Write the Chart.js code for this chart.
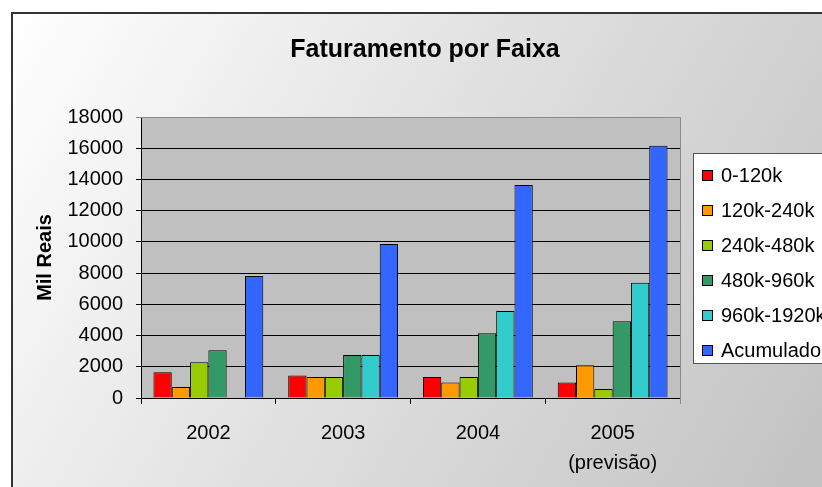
<!DOCTYPE html>
<html>
<head>
<meta charset="utf-8">
<script src="https://cdn.jsdelivr.net/npm/chart.js@4.4.1/dist/chart.umd.min.js"></script>
<style>
  html, body { margin: 0; padding: 0; overflow: hidden; background: #fff; }
  canvas { display: block; }
</style>
</head>
<body>
<canvas id="chart" width="850" height="520"></canvas>
<script>
// values (mil reais)
const years = ['2002', '2003', '2004', ['2005', '(previsão)']];
const faixa0_120 = [1650, 1440, 1350, 990];
const faixa120_240 = [710, 1350, 990, 2100];
const faixa240_480 = [2290, 1350, 1350, 580];
const faixa480_960 = [3060, 2760, 4150, 4920];
const faixa960_1920 = [null, 2760, 5570, 7380];
const acumulado = [7810, 9870, 13650, 16160];
const yTicks = [0, 2000, 4000, 6000, 8000, 10000, 12000, 14000, 16000, 18000];

const FONT = '"Liberation Sans", Arial, sans-serif';
Chart.defaults.font.family = FONT;
Chart.defaults.color = '#000';

const PLOT_BG = '#c0c0c0';

function bar(label, data, color) {
  return {
    label,
    data,
    backgroundColor: color,
    borderColor: '#000',
    borderWidth: 1,
    categoryPercentage: 0.815,
    barPercentage: 1.0,
  };
}

// page background, outer frame and grey plot area
const backdrop = {
  id: 'backdrop',
  beforeDraw(chart) {
    const { ctx, chartArea: a } = chart;
    ctx.save();
    const g = ctx.createLinearGradient(12, 13, 822, 487);
    g.addColorStop(0, '#ffffff');
    g.addColorStop(0.45, '#e2e2e2');
    g.addColorStop(1, '#c2c2c2');
    ctx.fillStyle = g;
    ctx.fillRect(12, 13, chart.width, chart.height);
    ctx.strokeStyle = '#333';
    ctx.lineWidth = 2;
    ctx.strokeRect(12, 13, chart.width + 20, chart.height + 20);
    ctx.fillStyle = PLOT_BG;
    ctx.fillRect(a.left, a.top, a.right - a.left, a.bottom - a.top);
    ctx.restore();
  },
  afterDatasetsDraw(chart) {
    const { ctx, chartArea: a } = chart;
    ctx.save();
    ctx.strokeStyle = '#8a8a8a';
    ctx.lineWidth = 1;
    ctx.beginPath();
    ctx.moveTo(a.left, a.top + 0.5);
    ctx.lineTo(a.right + 0.5, a.top + 0.5);
    ctx.lineTo(a.right + 0.5, a.bottom + 6);
    ctx.stroke();
    ctx.restore();
  },
};

// boxed legend to the right of the plot
const boxLegend = {
  id: 'boxLegend',
  afterDraw(chart) {
    const { ctx } = chart;
    const sets = chart.data.datasets;
    ctx.save();
    ctx.fillStyle = '#fff';
    ctx.fillRect(693, 153, 200, 210);
    ctx.strokeStyle = '#555';
    ctx.lineWidth = 1;
    ctx.strokeRect(693.5, 153.5, 200, 210);
    ctx.font = '20px ' + FONT;
    ctx.textBaseline = 'middle';
    sets.forEach((ds, i) => {
      const y = 175 + i * 35;
      ctx.fillStyle = ds.backgroundColor;
      ctx.fillRect(702, y - 5, 11, 11);
      ctx.strokeStyle = '#000';
      ctx.strokeRect(702.5, y - 4.5, 10, 10);
      ctx.fillStyle = '#000';
      ctx.fillText(ds.label, 721, y + 1);
    });
    ctx.restore();
  },
};

new Chart(document.getElementById('chart'), {
  type: 'bar',
  data: {
    labels: years,
    datasets: [
      bar('0-120k', faixa0_120, '#ff0000'),
      bar('120k-240k', faixa120_240, '#ff9900'),
      bar('240k-480k', faixa240_480, '#99cc00'),
      bar('480k-960k', faixa480_960, '#339966'),
      bar('960k-1920k', faixa960_1920, '#33cccc'),
      bar('Acumulado', acumulado, '#3366ff'),
    ],
  },
  options: {
    responsive: false,
    animation: false,
    layout: { padding: 0 },
    plugins: {
      legend: { display: false },
      tooltip: { enabled: false },
      title: {
        display: true,
        text: 'Faturamento por Faixa',
        color: '#000',
        font: { size: 25, weight: 'bold', lineHeight: 1.2 },
        padding: { top: 35, bottom: 52 },
      },
    },
    scales: {
      x: {
        grid: {
          offset: true,
          drawOnChartArea: false,
          drawTicks: true,
          tickLength: 6,
          color: '#000',
        },
        border: { color: '#000', width: 1 },
        ticks: {
          font: { size: 20, lineHeight: 1.5 },
          padding: 14,
          maxRotation: 0,
        },
        afterFit(s) { s.height = 520 - 398; },
      },
      y: {
        min: 0,
        max: 18000,
        afterBuildTicks(s) { s.ticks = yTicks.map((v) => ({ value: v })); },
        grid: {
          color: (c) => (c.tick && c.tick.value === 18000 ? '#8a8a8a' : '#000'),
          tickLength: 5,
        },
        border: { color: '#000', width: 1 },
        ticks: {
          font: { size: 20 },
          padding: 13,
          callback: (v) => String(v),
        },
        title: {
          display: true,
          text: 'Mil Reais',
          font: { size: 20, weight: 'bold', lineHeight: 1.2 },
          padding: { top: 33, bottom: 0 },
        },
        afterFit(s) { s.width = 141; },
      },
      spacer: {
        type: 'linear',
        position: 'right',
        display: true,
        grid: { display: false },
        border: { display: false },
        ticks: { display: false },
        afterFit(s) { s.width = 850 - 680; },
      },
    },
  },
  plugins: [backdrop, boxLegend],
});
</script>
</body>
</html>
